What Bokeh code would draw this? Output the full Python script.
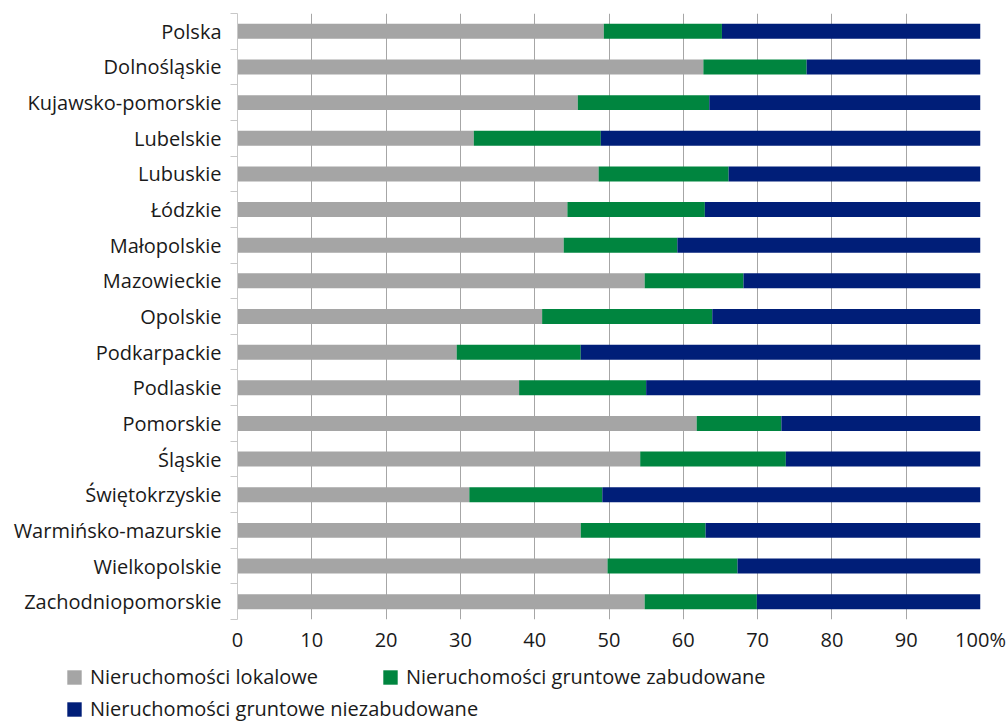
from bokeh.plotting import figure
from bokeh.models import (Range1d, FixedTicker, Legend, LegendItem, ColumnDataSource)
from bokeh.embed import file_html
from bokeh.resources import INLINE

regions = ["Polska", "Dolnośląskie", "Kujawsko-pomorskie", "Lubelskie", "Lubuskie",
           "Łódzkie", "Małopolskie", "Mazowieckie", "Opolskie", "Podkarpackie",
           "Podlaskie", "Pomorskie", "Śląskie", "Świętokrzyskie",
           "Warmińsko-mazurskie", "Wielkopolskie", "Zachodniopomorskie"]
lokalowe = [49.3, 62.7, 45.8, 31.8, 48.6, 44.4, 43.9, 54.8, 41.0, 29.5,
            37.9, 61.8, 54.2, 31.2, 46.2, 49.8, 54.8]
zabudowane = [15.9, 13.9, 17.7, 17.1, 17.5, 18.5, 15.3, 13.3, 22.9, 16.7,
              17.1, 11.4, 19.6, 17.9, 16.8, 17.5, 15.1]
niezabudowane = [round(100 - a - b, 1) for a, b in zip(lokalowe, zabudowane)]
series_names = ["Nieruchomości lokalowe", "Nieruchomości gruntowe zabudowane",
                "Nieruchomości gruntowe niezabudowane"]
colors = ["#A5A5A5", "#00853F", "#001E78"]
x_ticks = [0, 10, 20, 30, 40, 50, 60, 70, 80, 90, 100]
x_tick_labels = ["0", "10", "20", "30", "40", "50", "60", "70", "80", "90", "100%"]

FONT = "Open Sans"
FS = "20px"

n = len(regions)
ypos = [n - 1 - i for i in range(n)]
src = ColumnDataSource(dict(y=ypos, lok=lokalowe, zab=zabudowane, nie=niezabudowane))

p = figure(width=1006, height=655, output_backend="svg", toolbar_location=None,
           x_range=Range1d(0, 100), y_range=Range1d(-0.5, n - 0.5),
           min_border_left=237, min_border_right=26, min_border_top=13,
           min_border_bottom=34)
p.outline_line_color = None
p.background_fill_color = "white"

renderers = p.hbar_stack(["lok", "zab", "nie"], y="y", height=0.42, color=colors,
                         source=src, line_color=None)

# x axis
p.xaxis.ticker = FixedTicker(ticks=x_ticks)
p.xaxis.major_label_overrides = {t: l for t, l in zip(x_ticks, x_tick_labels)}
p.xaxis.axis_line_color = None
p.xaxis.major_tick_line_color = None
p.xaxis.major_tick_out = 0
p.xaxis.major_tick_in = 0
p.xaxis.minor_tick_line_color = None
p.xaxis.minor_tick_out = 0
p.xaxis.minor_tick_in = 0
p.xaxis.major_label_standoff = 6
p.xaxis.major_label_text_font = FONT
p.xaxis.major_label_text_font_size = FS
p.xaxis.major_label_text_color = "#1a1a1a"

# y axis
p.yaxis.ticker = FixedTicker(ticks=ypos, minor_ticks=[k - 0.5 for k in range(n + 1)])
p.yaxis.major_label_overrides = {y: r for y, r in zip(ypos, regions)}
p.yaxis.axis_line_color = "#C8C8C8"
p.yaxis.major_tick_line_color = None
p.yaxis.major_tick_out = 0
p.yaxis.major_tick_in = 0
p.yaxis.minor_tick_line_color = "#C8C8C8"
p.yaxis.minor_tick_out = 7
p.yaxis.minor_tick_in = 0
p.yaxis.major_label_standoff = 9
p.yaxis.major_label_text_font = FONT
p.yaxis.major_label_text_font_size = FS
p.yaxis.major_label_text_color = "#1a1a1a"

p.xgrid.ticker = FixedTicker(ticks=x_ticks[1:])
p.xgrid.grid_line_color = "#A6A6A6"
p.xgrid.grid_line_width = 1
p.ygrid.grid_line_color = None

# legend figure below the chart (separate root so its frame spans the full width)
LH = 67
lp = figure(width=1006, height=LH, output_backend="svg", toolbar_location=None,
            x_range=Range1d(0, 1006), y_range=Range1d(0, LH),
            min_border=0, min_border_left=0, min_border_right=0,
            min_border_top=0, min_border_bottom=0)
lp.axis.visible = False
lp.grid.visible = False
lp.outline_line_color = None

# legend-only swatch renderers, kept outside the visible range
dummies = [lp.quad(left=[-20], right=[-10], top=[-10], bottom=[-20], color=c, line_color=None)
           for c in colors]

def make_legend(i, loc):
    return Legend(items=[LegendItem(label=series_names[i], renderers=[dummies[i]])],
                  location=loc, orientation="horizontal", padding=0, margin=0,
                  glyph_width=18, glyph_height=18, label_standoff=7,
                  label_text_font=FONT, label_text_font_size=FS,
                  label_text_color="#1a1a1a", background_fill_alpha=0,
                  border_line_color=None)

lp.add_layout(make_legend(0, (65, 32)))
lp.add_layout(make_legend(1, (381, 32)))
lp.add_layout(make_legend(2, (65, 0)))

open("out.html", "w").write(file_html([p, lp], INLINE))
